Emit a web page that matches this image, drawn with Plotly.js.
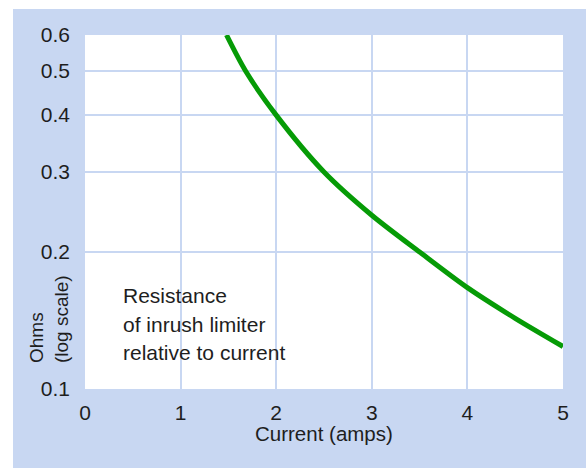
<!DOCTYPE html>
<html>
<head>
<meta charset="utf-8">
<script src="https://cdn.plot.ly/plotly-3.0.1.min.js"></script>
<style>
html,body{margin:0;padding:0;background:#ffffff;width:586px;height:468px;overflow:hidden;}
#chart{position:absolute;left:13px;top:9px;width:573px;height:459px;}
</style>
</head>
<body>
<div id="chart"></div>
<script>
// Data
const currentAmps = [1.48, 1.68, 2.0, 2.5, 3.0, 3.5, 4.0, 4.5, 5.0];
const resistanceOhms = [0.6, 0.5, 0.4, 0.3, 0.241, 0.2, 0.167, 0.143, 0.124];
const xTicks = [0, 1, 2, 3, 4, 5];
const yTicks = [0.1, 0.2, 0.3, 0.4, 0.5, 0.6];
const yTickText = ["0.1", "0.2", "0.3", "0.4", "0.5", "0.6"];
const noteLines = ["Resistance", "of inrush limiter", "relative to current"];

const BLUE = "#c8d7f2";
const FONT = "Liberation Sans, Arial, sans-serif";
const TXT = "#1e1e1e";

const trace = {
  x: currentAmps,
  y: resistanceOhms,
  type: "scatter",
  mode: "lines",
  line: {color: "#069b06", width: 5, shape: "spline", smoothing: 0.8},
  hoverinfo: "skip"
};

const noteY = [0.2655, 0.1808, 0.1017];
const annotations = noteLines.map((t, i) => ({
  text: t, xref: "paper", yref: "paper", x: 0.0754, y: noteY[i],
  xanchor: "left", yanchor: "middle", showarrow: false,
  font: {family: FONT, size: 21, color: TXT}
}));
annotations.push({
  text: "Ohms<br>(log scale)", xref: "paper", yref: "paper",
  x: -0.0764, y: 0.199, xanchor: "center", yanchor: "middle",
  textangle: -90, align: "left", showarrow: false,
  font: {family: FONT, size: 19, color: TXT}
});
annotations.push({
  text: "Current (amps)", xref: "paper", yref: "paper",
  x: 0.5, y: -0.1243, xanchor: "center", yanchor: "middle", showarrow: false,
  font: {family: FONT, size: 20.5, color: TXT}
});

const layout = {
  width: 573, height: 459,
  margin: {l: 72, r: 23, t: 26, b: 79, pad: 0},
  paper_bgcolor: BLUE,
  plot_bgcolor: "#ffffff",
  showlegend: false,
  font: {family: FONT, size: 21, color: TXT},
  xaxis: {
    range: [0, 5], tickvals: xTicks, showgrid: true, gridcolor: BLUE, gridwidth: 2,
    zeroline: false, showline: false, ticks: "", ticklabelstandoff: 9,
    tickfont: {family: FONT, size: 21, color: TXT}, fixedrange: true
  },
  yaxis: {
    type: "log", range: [Math.log10(0.1), Math.log10(0.6)],
    tickvals: yTicks, ticktext: yTickText, showgrid: true, gridcolor: BLUE, gridwidth: 2,
    zeroline: false, showline: false, ticks: "", ticklabelstandoff: 14,
    tickfont: {family: FONT, size: 21, color: TXT}, fixedrange: true
  },
  annotations: annotations
};

Plotly.newPlot("chart", [trace], layout, {displayModeBar: false, staticPlot: true});
</script>
</body>
</html>
